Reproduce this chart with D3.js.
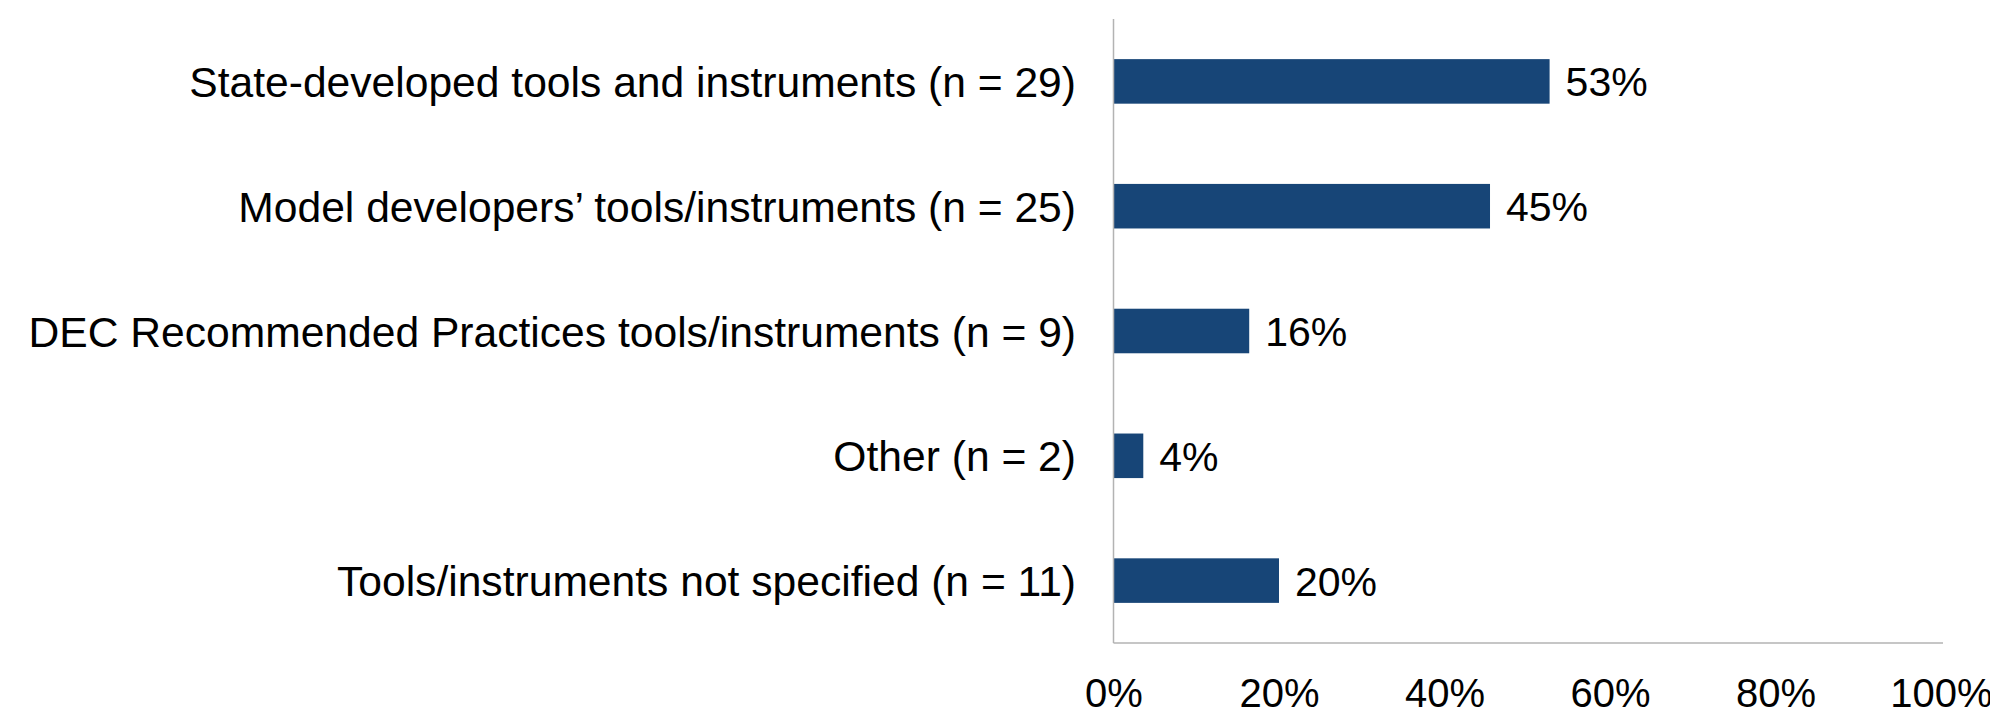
<!DOCTYPE html>
<html>
<head>
<meta charset="utf-8">
<script src="https://cdn.jsdelivr.net/npm/d3@7"></script>
<style>
  body { margin: 0; background: #fff; }
  text { font-family: "Liberation Sans", Arial, sans-serif; fill: #000; }
</style>
</head>
<body>
<div id="chart"></div>
<script>
var categories = [
    "State-developed tools and instruments (n = 29)",
    "Model developers\u2019 tools/instruments (n = 25)",
    "DEC Recommended Practices tools/instruments (n = 9)",
    "Other (n = 2)",
    "Tools/instruments not specified (n = 11)"
];
var values = [52.7, 45.5, 16.4, 3.6, 20];
var valueLabels = ["53%", "45%", "16%", "4%", "20%"];
var tickValues = [0, 20, 40, 60, 80, 100];

function init(){
    var w = 1990;
    var h = 712;
    var left = 1113.5, right = 1941;
    var top = 19, bottom = 643;

    var svg = d3.select("#chart")
                .append("svg")
                .attr("width", w)
                .attr("height", h);

    var x = d3.scaleLinear().domain([0, 100]).range([left, right]);
    var y = d3.scaleBand().domain(categories).range([top, bottom]).paddingInner(0.643).paddingOuter(0.3215);

    // bars
    svg.selectAll("rect.bar")
        .data(values)
        .enter()
        .append("rect")
        .attr("class", "bar")
        .attr("x", x(0))
        .attr("y", function(d, i){ return y(categories[i]); })
        .attr("width", function(d){ return x(d) - x(0); })
        .attr("height", y.bandwidth())
        .attr("fill", "#174577");

    // value labels
    svg.selectAll("text.val")
        .data(values)
        .enter()
        .append("text")
        .attr("class", "val")
        .attr("x", function(d){ return x(d) + 16; })
        .attr("y", function(d, i){ return y(categories[i]) + y.bandwidth()/2 + 15; })
        .attr("font-size", "41px")
        .text(function(d, i){ return valueLabels[i]; });

    // category labels
    svg.selectAll("text.cat")
        .data(categories)
        .enter()
        .append("text")
        .attr("class", "cat")
        .attr("x", 1076)
        .attr("y", function(d){ return y(d) + y.bandwidth()/2 + 15.5; })
        .attr("text-anchor", "end")
        .attr("font-size", "42.6px")
        .text(function(d){ return d; });

    // axes lines
    svg.append("line")
        .attr("x1", x(0)).attr("x2", x(0))
        .attr("y1", top).attr("y2", bottom)
        .attr("stroke", "#b3b3b3").attr("stroke-width", 1.5);
    svg.append("line")
        .attr("x1", x(0)).attr("x2", 1943)
        .attr("y1", bottom).attr("y2", bottom)
        .attr("stroke", "#b3b3b3").attr("stroke-width", 1.5);

    // x tick labels
    var xAxis = d3.axisBottom(x)
        .tickValues(tickValues)
        .tickSize(0)
        .tickPadding(0)
        .tickFormat(function(d){ return d + "%"; });
    var gx = svg.append("g")
        .attr("transform", "translate(0," + bottom + ")")
        .call(xAxis);
    gx.select(".domain").remove();
    gx.selectAll("text")
        .attr("dy", null)
        .attr("y", 63.5)
        .attr("font-size", "40px")
        .attr("font-family", "\"Liberation Sans\", Arial, sans-serif")
        .attr("fill", "#000");
}
window.onload = init;
</script>
</body>
</html>
